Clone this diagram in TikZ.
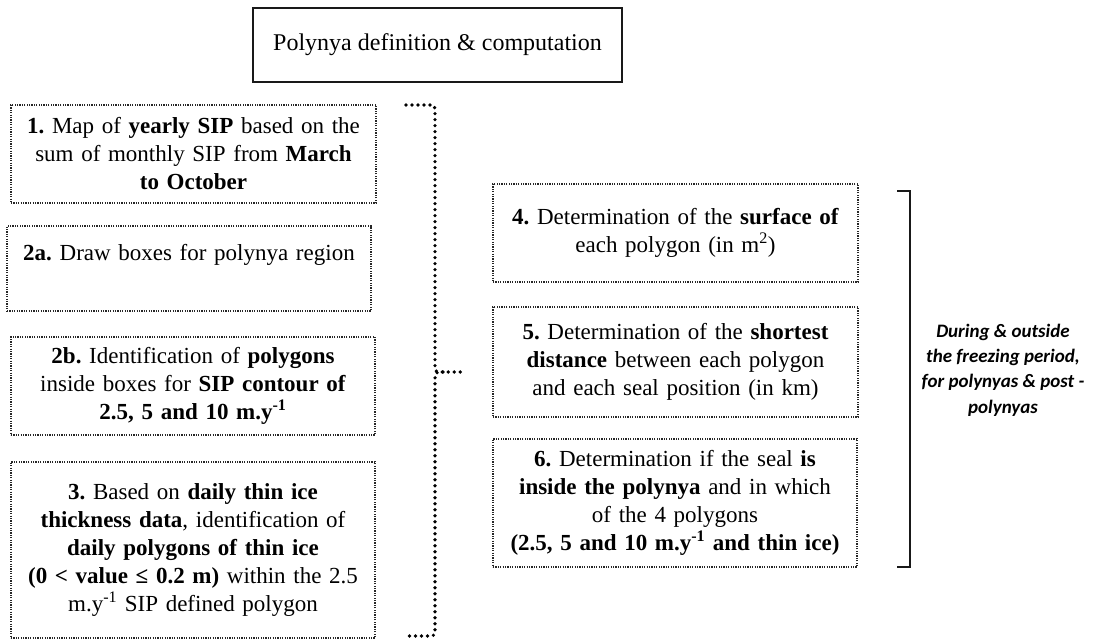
\documentclass[tikz,border=0pt]{standalone}
\usepackage{fontspec}
\setmainfont{Liberation Serif}
\newfontfamily\calib{Carlito}
\begin{document}
\frenchspacing
\begin{tikzpicture}[x=1pt,y=-1pt,
  dbox/.style={draw=black!85, line width=1.3pt, dash pattern=on 1.2pt off 1.2pt,
    inner sep=0pt, align=center, text width=360pt,
    font=\frenchspacing\fontsize{23}{28}\selectfont},
  tbox/.style={draw=black!90, line width=1.5pt, inner sep=0pt,
    font=\fontsize{24}{28}\selectfont},
  bracedots/.style={draw=black, line width=3.6pt, dash pattern=on 0pt off 6pt, line cap=round},
  bracketline/.style={draw=black!90, line width=2pt},
  sidetext/.style={align=center, font=\calib\bfseries\itshape\fontsize{19}{25.3}\selectfont}
]
\useasboundingbox (0,0) rectangle (1095,640);

\node[tbox, minimum width=369pt, minimum height=74pt] (title) at (437.5,45) {Polynya definition \& computation};

\node[dbox, minimum width=365pt, minimum height=98pt] (b1) at (193.5,154)
 {\textbf{1.} Map of \textbf{yearly SIP} based on the\\ sum of monthly SIP from \textbf{March}\\ \textbf{to October}};
\node[dbox, minimum width=364pt, minimum height=85pt] (b2a) at (189,268.5)
 {\textbf{2a.} Draw boxes for polynya region\\[-5pt] \strut};
\node[dbox, minimum width=364pt, minimum height=98pt] (b2b) at (193,386)
 {\textbf{2b.} Identification of \textbf{polygons}\\ inside boxes for \textbf{SIP contour of}\\ \textbf{2.5, 5 and 10 m.y\textsuperscript{-1}}};
\node[dbox, minimum width=364pt, minimum height=176pt] (b3) at (193,550)
 {\textbf{3.} Based on \textbf{daily thin ice}\\ \textbf{thickness data}, identification of\\ \textbf{daily polygons of thin ice}\\ \textbf{(0 < value ≤ 0.2 m)} within the 2.5\\ m.y\textsuperscript{-1} SIP defined polygon};

\node[dbox, minimum width=365pt, minimum height=98pt] (b4) at (675.5,233)
 {\textbf{4.} Determination of the \textbf{surface of}\\ each polygon (in m\textsuperscript{2})};
\node[dbox, minimum width=365pt, minimum height=110pt] (b5) at (675.5,362)
 {\textbf{5.} Determination of the \textbf{shortest}\\ \textbf{distance} between each polygon\\ and each seal position (in km)};
\node[dbox, minimum width=364pt, minimum height=128pt] (b6) at (675,503)
 {\textbf{6.} Determination if the seal \textbf{is}\\ \textbf{inside the polynya} and in which\\ of the 4 polygons\\ \textbf{(2.5, 5 and 10 m.y\textsuperscript{-1} and thin ice)}};

% left curly brace (dotted)
\coordinate (lbtop) at (406,105);
\coordinate (lbtip) at (465,372);
\coordinate (lbbot) at (408,636);
\draw[bracedots] (lbtop) -- (428,105) .. controls (435,105) .. (435,113) -- (435,364)
  .. controls (435,372) .. (443,372) -- (lbtip);
\draw[bracedots] (443,372) .. controls (435,372) .. (435,381) -- (435,628)
  .. controls (435,636) .. (427,636) -- (lbbot);

% right square bracket
\coordinate (rbtop) at (897,191);
\coordinate (rbbot) at (897,567);
\draw[bracketline] (rbtop) -- (910,191) -- (910,567) -- (rbbot);

\node[sidetext] (side) at (1003,370)
 {During \& outside\\ the freezing period,\\ for polynyas \& post -\\ polynyas};
\end{tikzpicture}
\end{document}
